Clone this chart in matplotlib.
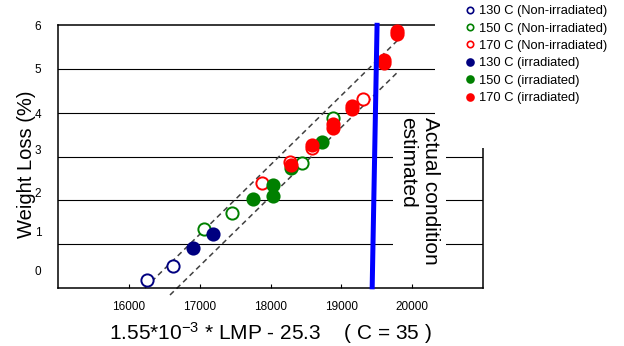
import matplotlib
matplotlib.use("Agg")
import matplotlib.pyplot as plt
from matplotlib.lines import Line2D
from matplotlib.patches import Rectangle

plt.rcParams['font.family'] = ['Liberation Sans', 'DejaVu Sans']
plt.rcParams['mathtext.fontset'] = 'custom'
plt.rcParams['mathtext.rm'] = 'Liberation Sans'
plt.rcParams['mathtext.default'] = 'regular'

# data (x = 1.55e-3*LMP - 25.3, y = weight loss in frame units)
x_130_non = [16261, 16628]
y_130_non = [0.18, 0.51]
x_150_non = [17065, 17452, 18440, 18887]
y_150_non = [1.34, 1.72, 2.85, 3.87]
x_170_non = [17876, 18275, 18582, 19302]
y_170_non = [2.40, 2.88, 3.19, 4.31]
x_130_irr = [16910, 17193]
y_130_irr = [0.92, 1.23]
x_150_irr = [17746, 18040, 18040, 18285, 18723]
y_150_irr = [2.02, 2.34, 2.10, 2.73, 3.32]
x_170_irr = [18285, 18582, 18887, 18887, 19146, 19146, 19607, 19607, 19782, 19782]
y_170_irr = [2.81, 3.26, 3.74, 3.66, 4.16, 4.08, 5.20, 5.13, 5.86, 5.79]

upper_band_x = [16228, 19800]
upper_band_y = [0.0, 5.66]
lower_band_x = [16581, 19786]
lower_band_y = [-0.16, 4.91]
actual_x = [19435, 19505]
actual_y = [-0.03, 6.05]

xticks = [16000, 17000, 18000, 19000, 20000]
ytick_pos = [0.41, 1.30, 2.19, 3.15, 3.97, 5.0, 6.0]
ytick_labels = ['0', '1', '2', '3', '4', '5', '6']
grid_y = [1, 2, 3, 4, 5]

W, H = 624, 346
fig = plt.figure(figsize=(W / 100, H / 100), dpi=100)
ax = fig.add_axes([58 / W, 1 - 288 / H, (483 - 58) / W, (288 - 25) / H])
ax.set_xlim(15000, 21000)
ax.set_ylim(0, 6)

for g in grid_y:
    ax.axhline(g, color='black', lw=0.8, zorder=1)

ax.plot(upper_band_x, upper_band_y, color='#404040', lw=1.1,
        linestyle=(0, (3.5, 2.5)), clip_on=False, zorder=2)
ax.plot(lower_band_x, lower_band_y, color='#404040', lw=1.1,
        linestyle=(0, (3.5, 2.5)), clip_on=False, zorder=2)

ms = 8.8
mew = 1.4
series = [
    (x_130_non, y_130_non, '#000080', False, '130 C (Non-irradiated)'),
    (x_150_non, y_150_non, '#008000', False, '150 C (Non-irradiated)'),
    (x_170_non, y_170_non, '#FF0000', False, '170 C (Non-irradiated)'),
    (x_130_irr, y_130_irr, '#000080', True, '130 C (irradiated)'),
    (x_150_irr, y_150_irr, '#008000', True, '150 C (irradiated)'),
    (x_170_irr, y_170_irr, '#FF0000', True, '170 C (irradiated)'),
]
handles = []
for xs, ys, c, filled, lab in series:
    ax.plot(xs, ys, 'o', ms=ms, mew=mew, mec=c, mfc=c if filled else 'white',
            linestyle='none', zorder=3, clip_on=False)
    handles.append(Line2D([], [], marker='o', linestyle='none', ms=5 if filled else 4.6,
                          mew=1.2, mec=c, mfc=c if filled else 'none', label=lab))

ax.plot(actual_x, actual_y, color='#0000FF', lw=3.6, clip_on=False, zorder=4,
        solid_capstyle='butt')

for s in ax.spines.values():
    s.set_linewidth(1.1)
ax.set_xticks(xticks)
ax.set_xticklabels([str(t) for t in xticks])
ax.tick_params(axis='x', direction='in', length=3, width=0.8, labelsize=8.5, pad=9.5)
ax.set_yticks(ytick_pos)
ax.set_yticklabels(ytick_labels)
ax.tick_params(axis='y', length=0, labelsize=8.5, pad=12)

ax.set_xlabel('1.55*10$^{-3}$ * LMP - 25.3    ( C = 35 )', fontsize=15, labelpad=5)
ax.set_ylabel('Weight Loss (%)', fontsize=14.5)
ax.yaxis.set_label_coords(-22 / (483 - 58), 0.47)

# white box behind the "Actual condition" note
fig.patches.append(Rectangle((393 / W, 1 - 272 / H), 53 / W, 155 / H,
                             transform=fig.transFigure, facecolor='white',
                             edgecolor='none', zorder=5))
fig.text(419 / W, 1 - 117 / H, 'Actual condition\nestimated', rotation=270,
         fontsize=15, ha='center', va='top', multialignment='left', zorder=6,
         linespacing=1.3)

# white box holding the legend
fig.patches.append(Rectangle((435 / W, 1 - 148 / H), 1 - 435 / W, 148 / H,
                             transform=fig.transFigure, facecolor='white',
                             edgecolor='none', zorder=5))
leg = fig.legend(handles=handles, loc='upper left',
                 bbox_to_anchor=(465 / W, 1 - 5 / H), frameon=False,
                 fontsize=9.3, handlelength=0.75, handletextpad=0.35,
                 labelspacing=0.42, borderpad=0, borderaxespad=0)
leg.set_zorder(6)

fig.savefig('out.png', dpi=100)
